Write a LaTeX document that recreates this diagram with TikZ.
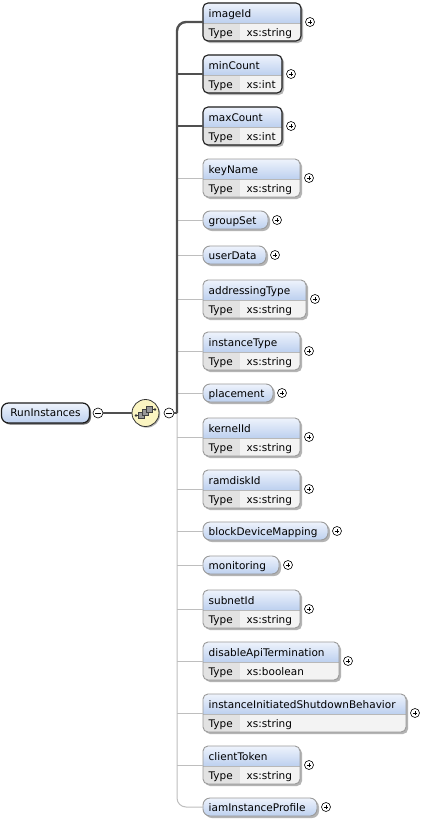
\documentclass[tikz,border=0pt]{standalone}
\usepackage{fontspec}
\setmainfont{DejaVu Sans}
\usetikzlibrary{fit,shadows}
\definecolor{hdrtop}{HTML}{EEF3FC}
\definecolor{hdrbot}{HTML}{BDD0EF}
\definecolor{typec}{HTML}{E2E2E2}
\definecolor{valc}{HTML}{F3F3F3}
\definecolor{shadowc}{HTML}{B4B4B4}
\definecolor{mandc}{HTML}{1E1E1E}
\definecolor{optc}{HTML}{9A9A9A}
\definecolor{mandline}{HTML}{505050}
\definecolor{optline}{HTML}{BEBEBE}
\definecolor{compfill}{HTML}{FBF5C2}
\tikzset{
  lbl/.style={inner sep=0pt, font=\fontsize{10.5}{12}\selectfont, text=black},
  mandborder/.style={draw=mandc, line width=1.1pt},
  optborder/.style={draw=optc, line width=0.9pt},
  boxfit/.style={inner sep=0pt, draw=none},
  mandconn/.style={draw=mandline, line width=2.4pt},
  optconn/.style={draw=optline, line width=1pt},
  plusc/.style={circle, draw=black, line width=0.6pt, fill=white, minimum size=9pt, inner sep=0pt,
    path picture={\draw[line width=0.6pt] ([xshift=-2.4pt]path picture bounding box.center) -- ([xshift=2.4pt]path picture bounding box.center);
      \draw[line width=0.6pt] ([yshift=-2.4pt]path picture bounding box.center) -- ([yshift=2.4pt]path picture bounding box.center);}},
  minusc/.style={circle, draw=black, line width=0.6pt, fill=white, minimum size=10pt, inner sep=0pt,
    path picture={\draw[line width=0.7pt] ([xshift=-2.6pt]path picture bounding box.center) -- ([xshift=2.6pt]path picture bounding box.center);}},
}
% two-row element: name, top, right, label, type, border style
\newcommand\eltwo[6]{%
  \fill[shadowc, rounded corners=5pt] (205,#2+2) rectangle (#3+2,#2+40);
  \begin{scope}
    \clip[rounded corners=5pt] (203,#2) rectangle (#3,#2+38);
    \shade[top color=hdrtop, bottom color=hdrbot] (203,#2) rectangle (#3,#2+20);
    \fill[typec] (203,#2+20) rectangle (240,#2+38);
    \fill[valc] (240,#2+20) rectangle (#3,#2+38);
  \end{scope}
  \draw[draw=optc!70, line width=0.6pt] (203,#2+20) -- (#3,#2+20);
  \draw[#6, rounded corners=5pt] (203,#2) rectangle (#3,#2+38);
  \node[boxfit, fit={(203,#2) (#3,#2+38)}] (#1) {};
  \node[lbl, anchor=base west] (#1-l) at (208.5,#2+14.5) {#4};
  \node[lbl, anchor=base west] (#1-t) at (208.5,#2+33) {Type};
  \node[lbl, anchor=base west] (#1-v) at (246.5,#2+33) {#5};
  \node[plusc] (#1-p) at (#3+9,#2+19) {};
}
% one-row element: name, top, right, label
\newcommand\elone[4]{%
  \fill[shadowc, rounded corners=7pt] (205,#2+2) rectangle (#3+2,#2+20);
  \shade[top color=hdrtop, bottom color=hdrbot, rounded corners=7pt] (203,#2) rectangle (#3,#2+18);
  \draw[optborder, rounded corners=7pt] (203,#2) rectangle (#3,#2+18);
  \node[boxfit, fit={(203,#2) (#3,#2+18)}] (#1) {};
  \node[lbl, anchor=base west] (#1-l) at (208.5,#2+13.5) {#4};
  \node[plusc] (#1-p) at (#3+9,#2+9) {};
}
\begin{document}
\begin{tikzpicture}[x=1pt,y=-1pt]
\useasboundingbox (0,0) rectangle (438,822);
\fill[white] (0,0) rectangle (438,822);

% elements
\eltwo{imageId}{3}{301}{imageId}{xs:string}{mandborder}
\eltwo{minCount}{55}{282}{minCount}{xs:int}{mandborder}
\eltwo{maxCount}{107}{282}{maxCount}{xs:int}{mandborder}
\eltwo{keyName}{159}{300}{keyName}{xs:string}{optborder}
\elone{groupSet}{211}{268}{groupSet}
\elone{userData}{246}{266}{userData}
\eltwo{addressingType}{280}{306}{addressingType}{xs:string}{optborder}
\eltwo{instanceType}{332}{300}{instanceType}{xs:string}{optborder}
\elone{placement}{384}{273}{placement}
\eltwo{kernelId}{418}{300}{kernelId}{xs:string}{optborder}
\eltwo{ramdiskId}{470}{300}{ramdiskId}{xs:string}{optborder}
\elone{blockDeviceMapping}{522}{328}{blockDeviceMapping}
\elone{monitoring}{556}{279}{monitoring}
\eltwo{subnetId}{590}{300}{subnetId}{xs:string}{optborder}
\eltwo{disableApiTermination}{642}{339}{disableApiTermination}{xs:boolean}{optborder}
\eltwo{instanceInitiatedShutdownBehavior}{694}{406}{instanceInitiatedShutdownBehavior}{xs:string}{optborder}
\eltwo{clientToken}{746}{300}{clientToken}{xs:string}{optborder}
\elone{iamInstanceProfile}{798}{317}{iamInstanceProfile}

% root element
\node[lbl, draw=mandc, line width=1.2pt, rounded corners=7pt, minimum width=88pt, minimum height=20pt,
  top color=hdrtop, bottom color=hdrbot,
  drop shadow={shadow xshift=1.5pt, shadow yshift=-1.5pt, fill=black!75, opacity=0.8}]
  (root) at (45.5,413) {RunInstances};
\node[minusc] (rminus) at (98,413) {};

% compositor
\node[circle, draw=black!80, line width=0.8pt, fill=compfill, minimum size=27pt, inner sep=0pt,
  drop shadow={shadow xshift=1.2pt, shadow yshift=-1.2pt, fill=black!50, opacity=0.6}]
  (comp) at (145.5,413) {};
\begin{scope}[shift={(comp.center)}]
  \draw[line width=0.8pt, black!80] (-9.5,2.5) -- (-6,2.5) (6,-3.5) -- (9.5,-3.5);
  \fill[black!80] (-9.5,2.5) circle (1.3pt) (9.5,-3.5) circle (1.3pt);
  \filldraw[fill=black!40, draw=black!75, line width=0.5pt] (-7,-0.5) rectangle (-1.5,5.5);
  \filldraw[fill=black!40, draw=black!75, line width=0.5pt] (-3,-3.5) rectangle (2.5,2.5);
  \filldraw[fill=black!40, draw=black!75, line width=0.5pt] (1,-6.5) rectangle (6.5,-0.5);
\end{scope}
\node[minusc] (cminus) at (169,413) {};

% connectors
\coordinate (jn) at (177,413);
\draw[optconn, rounded corners=9pt] (jn) |- (iamInstanceProfile.west);
\foreach \n in {keyName,groupSet,userData,addressingType,instanceType,placement,kernelId,ramdiskId,blockDeviceMapping,monitoring,subnetId,disableApiTermination,instanceInitiatedShutdownBehavior,clientToken}
  \draw[optconn] (jn |- \n.west) -- (\n.west);
\draw[mandconn, rounded corners=9pt] (imageId.west) -| (jn);
\draw[mandconn] (jn |- minCount.west) -- (minCount.west);
\draw[mandconn] (jn |- maxCount.west) -- (maxCount.west);
\draw[mandconn] (cminus.east) -- (jn);
\draw[draw=mandline, line width=1.6pt] (rminus.east) -- (comp.west);
\end{tikzpicture}
\end{document}
